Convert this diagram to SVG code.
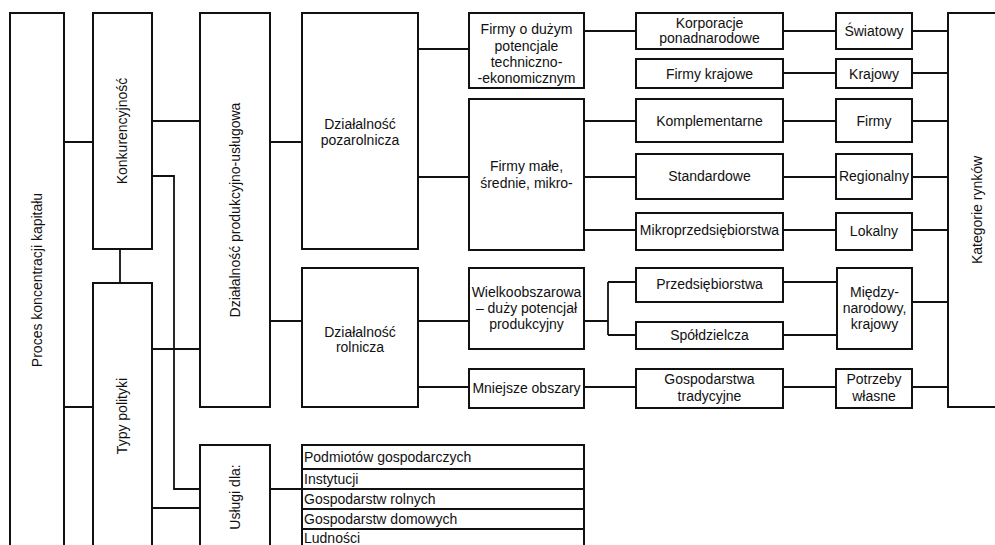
<svg xmlns="http://www.w3.org/2000/svg" width="995" height="545" viewBox="0 0 995 545">
<style>
.b{fill:#fff;stroke:#111;stroke-width:2}
.c{fill:none;stroke:#111;stroke-width:1.8}
text{font-family:"Liberation Sans",Arial,sans-serif;font-size:14px;fill:#111;text-anchor:middle}
.r{font-size:14px}
.l{font-size:14px;text-anchor:start}
</style>
<rect width="995" height="545" fill="#fff"/>
<g id="connectors">
<path class="c" d="M64 142H93M64 407H93M120 249V283M152 121H200M152 176H174V489H200M152 349H200M152 508H200M270 489H302M270 142H302M270 321H302M418 49H469M418 177H469M584 31H636M584 121H636M584 177H636M584 230H636M418 321H469M418 387H469M584 321H608M608 282V335M608 282H636M608 335H636M584 387H636M783 31H836M783 73H836M783 121H836M783 177H836M783 230H836M783 282H837M783 335H837M783 387H836M912 31H948M912 73H948M912 121H948M912 177H948M912 230H948M912 302H948M912 387H948"/>
</g>
<g id="n-proces"><rect class="b" x="10" y="13" width="54" height="540"/><text class="r" transform="translate(42 280) rotate(-90)">Proces koncentracji kapitału</text></g>
<g id="n-konk"><rect class="b" x="93" y="13" width="59" height="236"/><text class="r" transform="translate(127 131) rotate(-90)">Konkurencyjność</text></g>
<g id="n-typy"><rect class="b" x="93" y="283" width="59" height="270"/><text class="r" transform="translate(127 416) rotate(-90)">Typy polityki</text></g>
<g id="n-dpu"><rect class="b" x="200" y="13" width="70" height="394"/><text class="r" transform="translate(240 210) rotate(-90)">Działalność produkcyjno-usługowa</text></g>
<g id="n-uslugi"><rect class="b" x="200" y="445" width="70" height="108"/><text class="r" transform="translate(240 497) rotate(-90)">Usługi dla:</text></g>
<g id="n-kategorie"><rect class="b" x="948" y="13" width="60" height="394"/><text class="r" transform="translate(982 210) rotate(-90)">Kategorie rynków</text></g>
<g id="n-dpoz"><rect class="b" x="302" y="13" width="116" height="236"/><text x="360" y="129">Działalność</text><text x="360" y="145">pozarolnicza</text></g>
<g id="n-drol"><rect class="b" x="302" y="268" width="116" height="139"/><text x="360" y="337">Działalność</text><text x="360" y="352">rolnicza</text></g>
<g id="n-firmyduzy"><rect class="b" x="469" y="13" width="115" height="75"/><text x="526.5" y="34">Firmy o dużym</text><text x="526.5" y="51">potencjale</text><text x="526.5" y="67">techniczno-</text><text x="526.5" y="83">-ekonomicznym</text></g>
<g id="n-firmymale"><rect class="b" x="469" y="99" width="115" height="151"/><text x="526.5" y="171">Firmy małe,</text><text x="526.5" y="188">średnie, mikro-</text></g>
<g id="n-wielko"><rect class="b" x="469" y="268" width="115" height="81"/><text x="526.5" y="297">Wielkoobszarowa</text><text x="526.5" y="313">– duży potencjał</text><text x="526.5" y="329">produkcyjny</text></g>
<g id="n-mniejsze"><rect class="b" x="469" y="369" width="115" height="39"/><text x="526.5" y="393">Mniejsze obszary</text></g>
<g id="n-korp"><rect class="b" x="636" y="13" width="147" height="36"/><text x="709.5" y="28">Korporacje</text><text x="709.5" y="43">ponadnarodowe</text></g>
<g id="n-fkraj"><rect class="b" x="636" y="59" width="147" height="29"/><text x="709.5" y="79">Firmy krajowe</text></g>
<g id="n-kompl"><rect class="b" x="636" y="99" width="147" height="43"/><text x="709.5" y="126">Komplementarne</text></g>
<g id="n-stand"><rect class="b" x="636" y="154" width="147" height="45"/><text x="709.5" y="181">Standardowe</text></g>
<g id="n-mikro"><rect class="b" x="636" y="213" width="147" height="37"/><text x="709.5" y="235">Mikroprzedsiębiorstwa</text></g>
<g id="n-przeds"><rect class="b" x="636" y="268" width="147" height="34"/><text x="709.5" y="289">Przedsiębiorstwa</text></g>
<g id="n-spold"><rect class="b" x="636" y="322" width="147" height="27"/><text x="709.5" y="340">Spółdzielcza</text></g>
<g id="n-gosptrad"><rect class="b" x="636" y="369" width="147" height="39"/><text x="709.5" y="384">Gospodarstwa</text><text x="709.5" y="401">tradycyjne</text></g>
<g id="n-swiat"><rect class="b" x="836" y="13" width="76" height="36"/><text x="874" y="36">Światowy</text></g>
<g id="n-krajowy"><rect class="b" x="836" y="59" width="76" height="29"/><text x="874" y="79">Krajowy</text></g>
<g id="n-firmy"><rect class="b" x="836" y="99" width="76" height="43"/><text x="874" y="126">Firmy</text></g>
<g id="n-region"><rect class="b" x="836" y="154" width="76" height="45"/><text x="874" y="181">Regionalny</text></g>
<g id="n-lokalny"><rect class="b" x="836" y="213" width="76" height="37"/><text x="874" y="236">Lokalny</text></g>
<g id="n-miedzy"><rect class="b" x="837" y="268" width="75" height="81"/><text x="874.5" y="297">Między-</text><text x="874.5" y="313">narodowy,</text><text x="874.5" y="329">krajowy</text></g>
<g id="n-potrzeby"><rect class="b" x="836" y="369" width="76" height="39"/><text x="874" y="384">Potrzeby</text><text x="874" y="401">własne</text></g>
<g id="n-lista">
<rect class="b" x="302" y="445" width="282" height="24"/><text class="l" x="304" y="462">Podmiotów gospodarczych</text>
<rect class="b" x="302" y="469" width="282" height="20"/><text class="l" x="304" y="484">Instytucji</text>
<rect class="b" x="302" y="489" width="282" height="20"/><text class="l" x="304" y="504">Gospodarstw rolnych</text>
<rect class="b" x="302" y="509" width="282" height="20"/><text class="l" x="304" y="524">Gospodarstw domowych</text>
<rect class="b" x="302" y="529" width="282" height="24"/><text class="l" x="304" y="543">Ludności</text>
</g>
</svg>
